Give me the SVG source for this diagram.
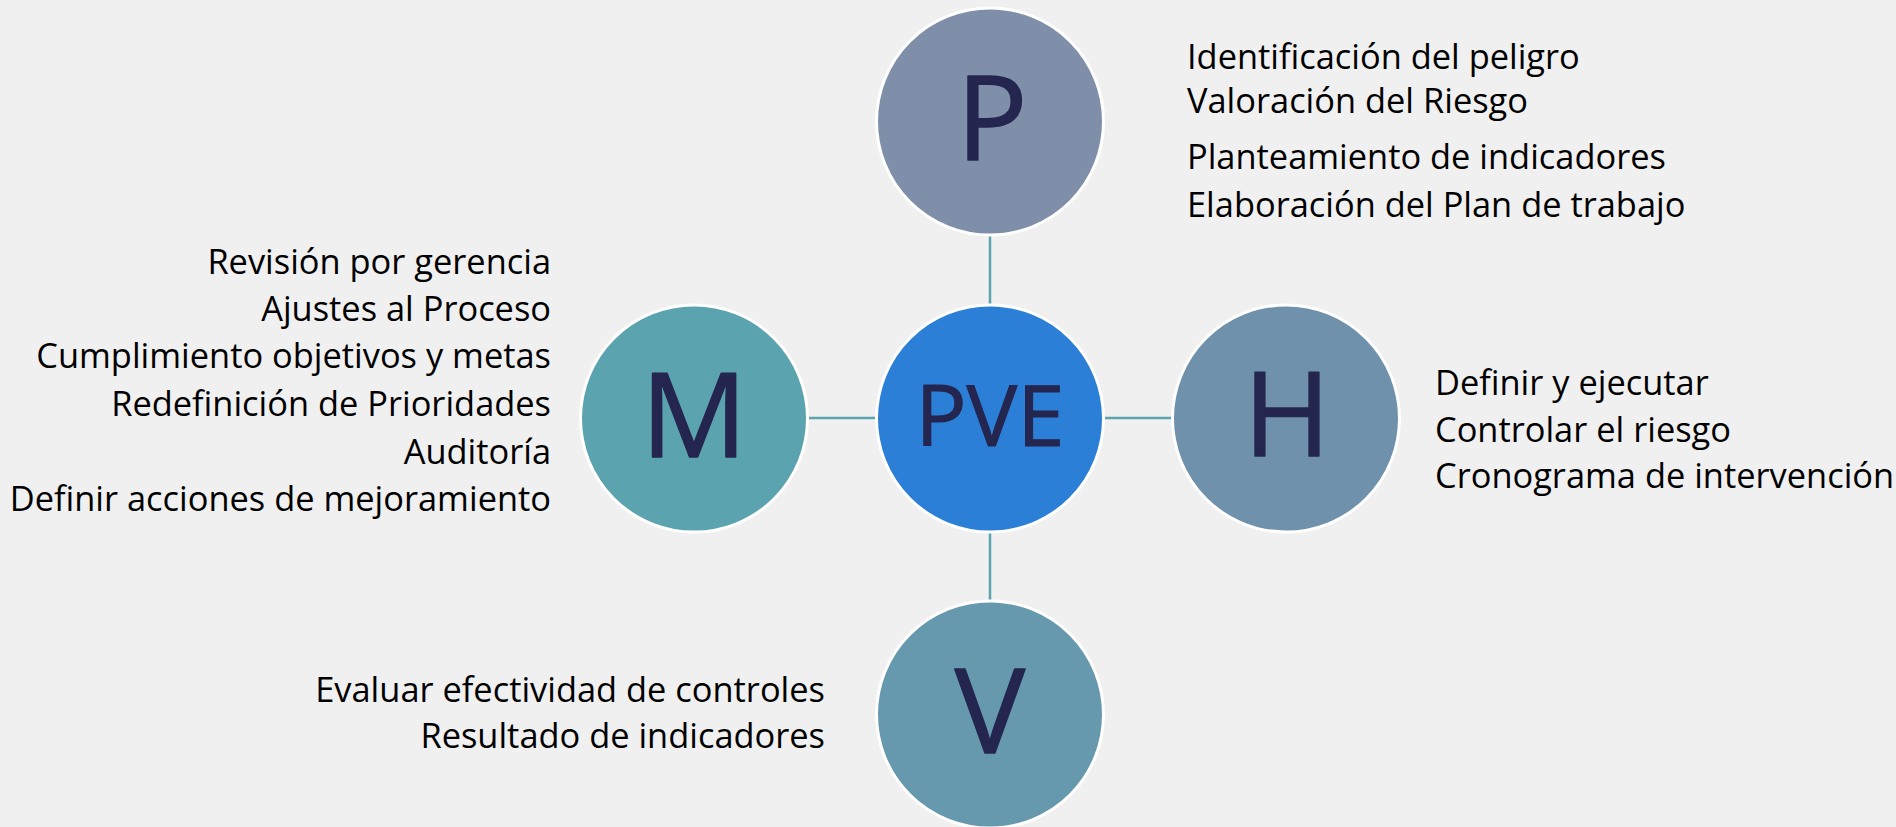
<svg xmlns="http://www.w3.org/2000/svg" width="1896" height="827" viewBox="0 0 1896 827">
<style>
.bg{fill:#f0f0f0}
.node{stroke:#ffffff;stroke-width:3}
.big{font-family:"Open Sans","Liberation Sans",sans-serif;fill:#24264f;stroke:#24264f;stroke-width:1.5;stroke-linejoin:round;text-anchor:middle;font-size:118px}
.mid{font-family:"Open Sans","Liberation Sans",sans-serif;fill:#24264f;stroke:#24264f;stroke-width:1;stroke-linejoin:round;text-anchor:middle;font-size:85px}
.lbl{font-family:"Open Sans","Liberation Sans",sans-serif;fill:#000000;font-size:34.4px}
.r{text-anchor:end}
.conn line{stroke:#5aa5b0;stroke-width:2.5}
</style>
<rect class="bg" x="0" y="0" width="1896" height="827"/>
<g id="connectors" class="conn">
<line x1="990" y1="235" x2="990" y2="305"/>
<line x1="807" y1="418" x2="877" y2="418"/>
<line x1="1103" y1="418" x2="1173" y2="418"/>
<line x1="990" y1="532" x2="990" y2="601"/>
</g>
<g id="node-pve">
<circle class="node" cx="990" cy="418.5" r="113.5" fill="#2b7fd6"/>
<text class="mid" x="990" y="446">PVE</text>
</g>
<g id="node-p">
<circle class="node" cx="990" cy="121.5" r="113.5" fill="#7f8fa9"/>
<text class="big" x="992" y="160">P</text>
<g class="lbl">
<text x="1187" y="69">Identificación del peligro</text>
<text x="1187" y="113">Valoración del Riesgo</text>
<text x="1187" y="169">Planteamiento de indicadores</text>
<text x="1187" y="217">Elaboración del Plan de trabajo</text>
</g>
</g>
<g id="node-m">
<circle class="node" cx="694" cy="418.5" r="113.5" fill="#5ca3b0"/>
<text class="big" x="694" y="457">M</text>
<g class="lbl r">
<text x="551" y="274">Revisión por gerencia</text>
<text x="551" y="321">Ajustes al Proceso</text>
<text x="551" y="368">Cumplimiento objetivos y metas</text>
<text x="551" y="416">Redefinición de Prioridades</text>
<text x="551" y="464">Auditoría</text>
<text x="551" y="511">Definir acciones de mejoramiento</text>
</g>
</g>
<g id="node-h">
<circle class="node" cx="1286" cy="418.5" r="113.5" fill="#7091ab"/>
<text class="big" x="1287" y="456">H</text>
<g class="lbl">
<text x="1435" y="395">Definir y ejecutar</text>
<text x="1435" y="442">Controlar el riesgo</text>
<text x="1435" y="488">Cronograma de intervención</text>
</g>
</g>
<g id="node-v">
<circle class="node" cx="990" cy="714.5" r="113.5" fill="#6698ae"/>
<text class="big" x="990" y="753">V</text>
<g class="lbl r">
<text x="825" y="702">Evaluar efectividad de controles</text>
<text x="825" y="748">Resultado de indicadores</text>
</g>
</g>
</svg>
